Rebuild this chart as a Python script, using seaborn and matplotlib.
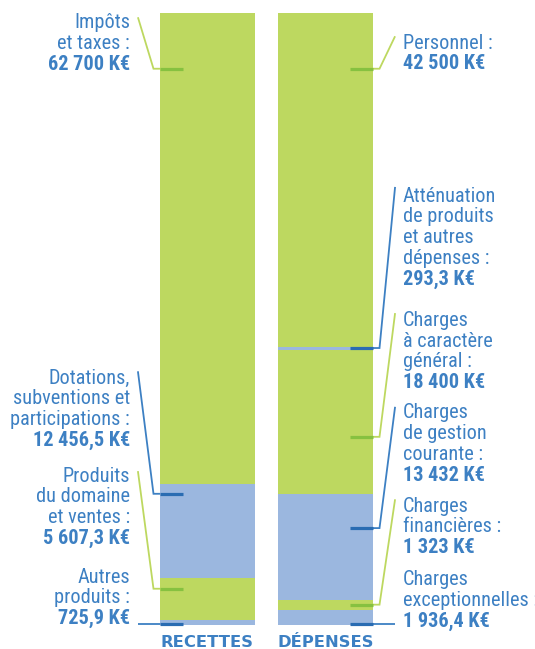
import matplotlib
matplotlib.use("Agg")
import matplotlib.pyplot as plt
import numpy as np
import seaborn as sns
from matplotlib import font_manager

# Bars
bars = ["RECETTES", "DÉPENSES"]

# Recettes, top to bottom
rec_labels = ["Impôts\net taxes :",
              "Dotations,\nsubventions et\nparticipations :",
              "Produits\ndu domaine\net ventes :",
              "Autres\nproduits :"]
rec_values = [62700, 12456.5, 5607.3, 725.9]
rec_texts = ["62 700 K€", "12 456,5 K€", "5 607,3 K€", "725,9 K€"]

# Dépenses, top to bottom
dep_labels = ["Personnel :",
              "Atténuation\nde produits\net autres\ndépenses :",
              "Charges\nà caractère\ngénéral :",
              "Charges\nde gestion\ncourante :",
              "Charges\nfinancières :",
              "Charges\nexceptionnelles :"]
dep_values = [42500, 293.3, 18400, 13432, 1323, 1936.4]
dep_texts = ["42 500 K€", "293,3 K€", "18 400 K€", "13 432 K€", "1 323 K€", "1 936,4 K€"]

# Label placement (in % of bar height): first text baseline, line start, line knee
rec_text_y = [97.5, 39.5, 23.5, 7.0]
rec_line_y = [(99.3, 90.9), (41.5, 21.5), (25.2, 6.0), (0.25, 0.25)]
dep_text_y = [94.2, 69.2, 48.9, 33.8, 18.6, 6.6]
dep_line_y = [(96.2, 90.9), (71.6, 45.3), (51.0, 30.8), (35.7, 15.9), (20.6, 3.4), (0.25, 0.25)]

green = "#bdd860"
blue = "#9bb7df"
dark_green = "#86c140"
dark_blue = "#2a6cb2"
text_blue = "#3d80c3"

sns.set_theme(style="white")

available = {f.name for f in font_manager.fontManager.ttflist}
label_font = next((f for f in ["Roboto Condensed", "Liberation Sans Narrow", "Roboto"]
                   if f in available), "DejaVu Sans")
label_size = 14.6 if label_font != "Roboto" else 12
line_step = 14.9  # points between text lines

fig = plt.figure(figsize=(5.35, 6.49), dpi=100)
ax = fig.add_axes([0, 0, 1, 1])

bar_w = 0.805


def stack(name, values):
    # cumulative heights (percent), drawn largest first so smaller ones sit on top
    cum = np.cumsum(values[::-1])[::-1] / sum(values) * 100
    for i, c in enumerate(cum):
        sns.barplot(x=[name], y=[c], order=bars, color=green if i % 2 == 0 else blue,
                    width=bar_w, saturation=1, linewidth=0, ax=ax)


stack(bars[0], rec_values)
stack(bars[1], dep_values)


def label_block(x, y, label, value, ha):
    lines = label.split("\n") + [value]
    for i, line in enumerate(lines):
        ax.annotate(line, xy=(x, y), xytext=(0, -i * line_step), textcoords="offset points",
                    ha=ha, va="baseline", color=text_blue, fontsize=label_size,
                    family=label_font, fontweight="bold" if i == len(lines) - 1 else "normal")


def leader(edge, side, y0, y1, k):
    light = green if k % 2 == 0 else text_blue
    dark = dark_green if k % 2 == 0 else dark_blue
    start = edge - side * 0.187
    knee = edge - side * 0.055
    ax.plot([start, knee, edge], [y0, y1, y1], color=light, lw=1.3, solid_capstyle="butt",
            solid_joinstyle="miter")
    ax.plot([edge, edge + side * 0.195], [y1, y1], color=dark, lw=2.3, solid_capstyle="butt")


# left side: recettes
left_edge = 0 - bar_w / 2
for k, (lab, txt) in enumerate(zip(rec_labels, rec_texts)):
    label_block(left_edge - 0.254, rec_text_y[k], lab, txt, "right")
    leader(left_edge, 1, *rec_line_y[k], k)

# right side: dépenses
right_edge = 1 + bar_w / 2
for k, (lab, txt) in enumerate(zip(dep_labels, dep_texts)):
    label_block(right_edge + 0.254, dep_text_y[k], lab, txt, "left")
    leader(right_edge, -1, *dep_line_y[k], k)

# bar names under the bars
for i, name in enumerate(bars):
    ax.text(i, -3.45, name, ha="center", va="baseline", color=text_blue,
            fontsize=11.8, fontweight="bold", family="DejaVu Sans")

ax.set_xlim(-1.758, 2.775)
ax.set_ylim(-3.84, 102.12)
ax.axis("off")

fig.savefig("out.png", dpi=100)
